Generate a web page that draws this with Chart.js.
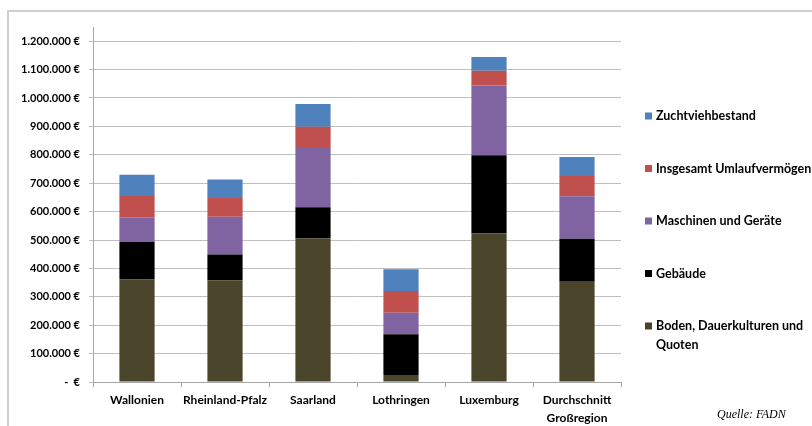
<!DOCTYPE html>
<html>
<head>
<meta charset="utf-8">
<script src="https://cdn.jsdelivr.net/npm/chart.js@4.4.1/dist/chart.umd.min.js"></script>
<style>
html,body{margin:0;padding:0;background:#fff;}
#wrap{position:relative;width:812px;height:426px;overflow:hidden;}
</style>
</head>
<body>
<div id="wrap"><canvas id="c" width="812" height="426"></canvas></div>
<script>
const categories = ['Wallonien', 'Rheinland-Pfalz', 'Saarland', 'Lothringen', 'Luxemburg', ['Durchschnitt', 'Großregion']];
const boden     = [361000, 358000, 506000,  25000, 524000, 353000];
const gebaeude  = [133000,  91000, 109000, 143000, 274000, 151000];
const maschinen = [ 86000, 133000, 209000,  76000, 246000, 150000];
const umlauf    = [ 75000,  66000,  75000,  76000,  52000,  71000];
const zucht     = [ 75000,  65000,  80000,  77000,  48000,  67000];
const seriesNames = [['Boden, Dauerkulturen und', 'Quoten'], 'Gebäude', 'Maschinen und Geräte', 'Insgesamt Umlaufvermögen', 'Zuchtviehbestand'];
const seriesColors = ['#4A452A', '#000000', '#8064A2', '#C0504D', '#4F81BD'];
const yTicks = [0, 100000, 200000, 300000, 400000, 500000, 600000, 700000, 800000, 900000, 1000000, 1100000, 1200000];
const yMax = 1250000;
const source = 'Quelle: FADN';

function euro(v) {
  if (v === 0) return '-  €';
  return String(v).replace(/\B(?=(\d{3})+(?!\d))/g, '.') + ' €';
}

const seriesValues = [boden, gebaeude, maschinen, umlauf, zucht];

const framePlugin = {
  id: 'frame',
  beforeDraw(chart) {
    const ctx = chart.ctx;
    ctx.save();
    ctx.strokeStyle = '#CFCFCF';
    ctx.lineWidth = 2;
    ctx.strokeRect(8, 11, 900, 600);
    ctx.restore();
  },
  afterDraw(chart) {
    const ctx = chart.ctx;
    ctx.save();
    const items = chart.data.datasets.slice().reverse();
    const x0 = 645, yStart = 116, gap = 52.5;
    ctx.font = 'bold 12.5px Lato';
    ctx.textBaseline = 'middle';
    items.forEach((ds, i) => {
      const y = yStart + i * gap;
      ctx.fillStyle = ds.backgroundColor;
      ctx.fillRect(x0, y - 3.5, 7, 7);
      ctx.fillStyle = '#000';
      const lines = Array.isArray(ds.label) ? ds.label : [ds.label];
      lines.forEach((t, j) => ctx.fillText(t, x0 + 11, y + j * 18.5));
    });
    ctx.font = 'italic 12px "Liberation Serif"';
    ctx.fillStyle = '#000';
    ctx.fillText(source, 717, 415);
    ctx.restore();
  }
};

new Chart(document.getElementById('c'), {
  type: 'bar',
  data: {
    labels: categories,
    datasets: seriesValues.map((vals, i) => ({
      label: seriesNames[i],
      data: vals,
      backgroundColor: seriesColors[i],
      borderWidth: 0,
      barPercentage: 0.4,
      categoryPercentage: 1.0
    }))
  },
  options: {
    responsive: false,
    animation: false,
    devicePixelRatio: 1,
    layout: { padding: { left: 0, top: 27, right: 191, bottom: 0 } },
    plugins: { legend: { display: false }, tooltip: { enabled: false } },
    scales: {
      x: {
        stacked: true,
        offset: true,
        grid: { display: true, drawOnChartArea: false, drawTicks: true, tickLength: 5, offset: true, color: '#A6A6A6' },
        border: { display: true, color: '#A6A6A6', width: 1 },
        ticks: { color: '#000', font: { family: 'Lato', weight: 'bold', size: 12, lineHeight: 1.5 }, padding: 4, maxRotation: 0, autoSkip: false },
        afterFit(s) { s.height = 44; }
      },
      y: {
        stacked: true,
        min: 0,
        max: yMax,
        grid: { color: '#BFBFBF', tickLength: 4, drawTicks: true },
        border: { display: true, color: '#A6A6A6', width: 1 },
        ticks: { color: '#000', padding: 9, font: { family: 'Lato', weight: 'bold', size: 11 }, callback: v => euro(v) },
        afterBuildTicks(s) { s.ticks = yTicks.map(v => ({ value: v })); },
        afterFit(s) { s.width = 93; }
      }
    }
  },
  plugins: [framePlugin]
});
</script>
</body>
</html>
